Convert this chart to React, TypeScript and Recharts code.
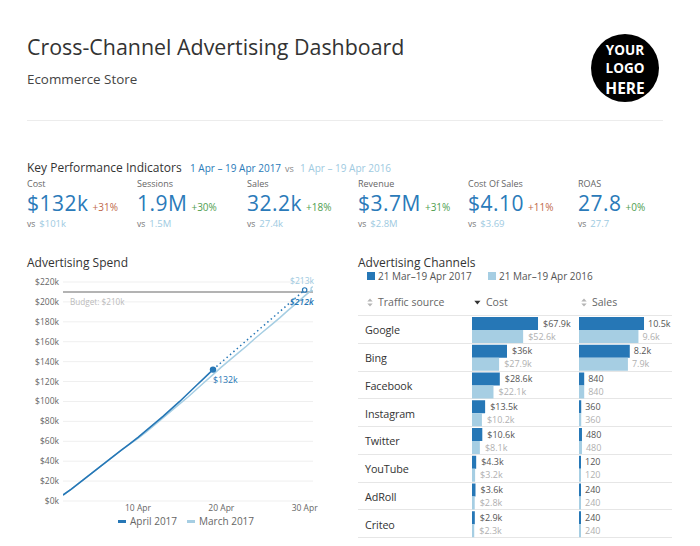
import React from 'react';
import {
  LineChart, Line, XAxis, YAxis, CartesianGrid, ReferenceLine,
  BarChart, Bar, LabelList,
} from 'recharts';

const FONT = '"Open Sans", "Noto Sans", sans-serif';
const DARK = '#2677b6';
const LIGHT = '#a6cee3';
const VALUE_BLUE = '#2a7ab9';
const PREV_BLUE = '#9ecae1';

// KPI data
const kpiLabels = ['Cost', 'Sessions', 'Sales', 'Revenue', 'Cost Of Sales', 'ROAS'];
const kpiValues = ['$132k', '1.9M', '32.2k', '$3.7M', '$4.10', '27.8'];
const kpiChanges = ['+31%', '+30%', '+18%', '+31%', '+11%', '+0%'];
const kpiChangeBad = [true, false, false, false, true, false];
const kpiPrevious = ['$101k', '1.5M', '27.4k', '$2.8M', '$3.69', '27.7'];
const kpiColumnsX = [27, 137, 247, 358, 468, 578];

// Advertising spend (cumulative, $k)
const aprilDays = [1, 2, 3, 4, 5, 6, 7, 8, 9, 10, 11, 12, 13, 14, 15, 16, 17, 18, 19];
const aprilSpend = [6, 12, 18.5, 25, 31.5, 38, 44.5, 51, 57.5, 64, 71, 78, 85, 92.5, 100, 108, 116, 124, 132];
const marchDays = [1, 2, 3, 4, 5, 6, 7, 8, 9, 10, 11, 12, 13, 14, 15, 16, 17, 18, 19, 20, 21, 22, 23, 24, 25, 26, 27, 28, 29, 30, 31];
const marchSpend = [6, 12, 18.5, 25, 31.5, 38, 44.5, 51, 57, 63, 69.5, 76.5, 83.5, 90.5, 97.5, 104.5, 112, 119.5, 127, 134.5, 141.5, 148.5, 155.5, 163, 170, 177, 184, 191.5, 198.5, 206, 213];
const projectionDays = [19, 30];
const projectionSpend = [132, 212];
const budget = 210;
const spendYTicks = [0, 20, 40, 60, 80, 100, 120, 140, 160, 180, 200, 220];
const spendXTicks = [10, 20, 30];

// Advertising channels
const channels = ['Google', 'Bing', 'Facebook', 'Instagram', 'Twitter', 'YouTube', 'AdRoll', 'Criteo'];
const cost2017 = [67.9, 36, 28.6, 13.5, 10.6, 4.3, 3.6, 2.9];
const cost2016 = [52.6, 27.9, 22.1, 10.2, 8.1, 3.2, 2.8, 2.3];
const sales2017 = [10500, 8200, 840, 360, 480, 120, 240, 240];
const sales2016 = [9600, 7900, 840, 360, 480, 120, 240, 240];

const aprilData = aprilDays.map((d, i) => ({ day: d, v: aprilSpend[i] }));
const marchData = marchDays.map((d, i) => ({ day: d, v: marchSpend[i] }));
const projData = projectionDays.map((d, i) => ({ day: d, v: projectionSpend[i] }));
const channelData = channels.map((n, i) => ({
  name: n, c17: cost2017[i], c16: cost2016[i], s17: sales2017[i], s16: sales2016[i],
}));

const fmtCost = (v: any) => `$${v}k`;
const fmtSales = (v: any) => (Number(v) >= 1000 ? `${(Number(v) / 1000).toFixed(1)}k` : `${v}`);

const T = ({ x, y, size, color, children, weight, italic, lh, ls }: any) => {
  const l = lh || Math.round(size * 1.4);
  return (
    <div
      style={{
        position: 'absolute', left: x, top: y - l / 2, fontSize: size, lineHeight: `${l}px`,
        color, whiteSpace: 'nowrap', fontFamily: FONT, fontWeight: weight || 400,
        fontStyle: italic ? 'italic' : 'normal', letterSpacing: ls || 0,
      }}
    >
      {children}
    </div>
  );
};

const SortIcon = () => (
  <svg width="6" height="9" style={{ display: 'inline-block', marginRight: 5, verticalAlign: '-1px' }}>
    <path d="M0.3 3.6 L3 0.5 L5.7 3.6 Z" fill="#b5b5b5" />
    <path d="M0.3 5.4 L3 8.5 L5.7 5.4 Z" fill="#b5b5b5" />
  </svg>
);
const DownIcon = () => (
  <svg width="7" height="7" style={{ display: 'inline-block', marginRight: 5, verticalAlign: '0px' }}>
    <path d="M0.3 1.8 L6.5 1.8 L3.4 5.5 Z" fill="#333" />
  </svg>
);

const lastApril = aprilSpend[aprilSpend.length - 1];
const lastMarch = marchSpend[marchSpend.length - 1];
const lastProj = projectionSpend[projectionSpend.length - 1];

export default function App() {
  const rowTop = 316;
  const rowH = 27.75;
  return (
    <div style={{ position: 'absolute', left: 0, top: 0, width: 700, height: 546, background: '#fff', fontFamily: FONT, overflow: 'hidden' }}>
      {/* Header */}
      <T x={27} y={47} size={21.4} color="#333" lh={30}>Cross-Channel Advertising Dashboard</T>
      <T x={27} y={79} size={13.4} color="#444">Ecommerce Store</T>
      <div style={{ position: 'absolute', left: 591, top: 34, width: 68, height: 68, borderRadius: '50%', background: '#000' }} />
      <div style={{ position: 'absolute', left: 591, top: 41, width: 68, textAlign: 'center', color: '#fff', fontFamily: FONT, fontWeight: 700, fontSize: 13.5, lineHeight: '18.5px', whiteSpace: 'nowrap' }}>YOUR</div>
      <div style={{ position: 'absolute', left: 591, top: 59, width: 68, textAlign: 'center', color: '#fff', fontFamily: FONT, fontWeight: 700, fontSize: 13.5, lineHeight: '18.5px', whiteSpace: 'nowrap' }}>LOGO</div>
      <div style={{ position: 'absolute', left: 591, top: 78, width: 68, textAlign: 'center', color: '#fff', fontFamily: FONT, fontWeight: 700, fontSize: 15.5, lineHeight: '21px', whiteSpace: 'nowrap' }}>HERE</div>
      <div style={{ position: 'absolute', left: 27, top: 120, width: 636, height: 1, background: '#ececec' }} />

      {/* KPI */}
      <T x={27} y={167} size={12} color="#333">Key Performance Indicators</T>
      <T x={190} y={168} size={10} color={VALUE_BLUE}>1 Apr – 19 Apr 2017</T>
      <T x={285} y={168} size={9} color="#888">vs</T>
      <T x={300} y={168} size={10} color={PREV_BLUE}>1 Apr – 19 Apr 2016</T>
      {kpiLabels.map((lab, i) => (
        <React.Fragment key={lab}>
          <T x={kpiColumnsX[i]} y={183.5} size={9} color="#666" lh={12}>{lab}</T>
          <div style={{ position: 'absolute', left: kpiColumnsX[i], top: 192, height: 22, display: 'flex', alignItems: 'baseline', whiteSpace: 'nowrap', fontFamily: FONT }}>
            <span style={{ fontSize: 21, lineHeight: '22px', color: VALUE_BLUE, letterSpacing: 0.5 }}>{kpiValues[i]}</span>
            <span style={{ fontSize: 10, lineHeight: '12px', marginLeft: 4, color: kpiChangeBad[i] ? '#c0694a' : '#4f9e4f' }}>{kpiChanges[i]}</span>
          </div>
          <div style={{ position: 'absolute', left: kpiColumnsX[i], top: 218, height: 12, display: 'flex', alignItems: 'baseline', whiteSpace: 'nowrap', fontFamily: FONT }}>
            <span style={{ fontSize: 8.5, color: '#777', lineHeight: '12px' }}>vs</span>
            <span style={{ fontSize: 9.5, color: PREV_BLUE, marginLeft: 4, lineHeight: '12px' }}>{kpiPrevious[i]}</span>
          </div>
        </React.Fragment>
      ))}

      {/* Advertising Spend */}
      <T x={27} y={262} size={12} color="#333">Advertising Spend</T>
      <div style={{ position: 'absolute', left: 0, top: 270 }}>
        <LineChart width={330} height={270} margin={{ top: 12, right: 17, bottom: 14, left: 0 }}>
          <CartesianGrid vertical={false} stroke="#efefef" />
          <XAxis
            type="number" dataKey="day" domain={[1, 31]} ticks={spendXTicks} allowDataOverflow
            tickFormatter={(v: any) => `${v} Apr`} axisLine={false} tickLine={false} tickSize={0} tickMargin={4}
            height={25} tick={{ fontSize: 8.5, fill: '#666' }} interval={0}
          />
          <YAxis
            type="number" domain={[0, 220]} ticks={spendYTicks} tickFormatter={(v: any) => `$${v}k`}
            axisLine={false} tickLine={false} tickSize={0} tickMargin={4} width={63}
            tick={{ fontSize: 8.5, fill: '#666' }} interval={0}
          />
          <ReferenceLine
            y={budget} stroke="#9a9a9a" strokeWidth={1.5}
            label={{ value: `Budget: $${budget}k`, position: 'insideTopLeft', offset: 7, fill: '#bbb', fontSize: 8.2 }}
          />
          <Line
            data={marchData} dataKey="v" type="linear" stroke={LIGHT} strokeWidth={1.5} isAnimationActive={false}
            dot={(p: any) => p.payload && p.payload.v === lastMarch
              ? <circle key={`md${p.index}`} cx={p.cx} cy={p.cy} r={2} fill="#fff" stroke={LIGHT} strokeWidth={1.2} />
              : <g key={`md${p.index}`} />}
          >
            <LabelList dataKey="v" content={(p: any) => p.value === lastMarch
              ? <text x={Number(p.x) + 1} y={Number(p.y) - 5} textAnchor="end" fontSize={8.5} fill={PREV_BLUE}>{`$${p.value}k`}</text>
              : null} />
          </Line>
          <Line
            data={projData} dataKey="v" type="linear" stroke={DARK} strokeWidth={1.5} strokeDasharray="1.5 3" isAnimationActive={false}
            dot={(p: any) => p.payload && p.payload.v === lastProj
              ? <circle key={`pd${p.index}`} cx={p.cx} cy={p.cy} r={2.2} fill="#fff" stroke={DARK} strokeWidth={1.2} />
              : <g key={`pd${p.index}`} />}
          >
            <LabelList dataKey="v" content={(p: any) => p.value === lastProj
              ? <text x={Number(p.x) + 9} y={Number(p.y) + 15} textAnchor="end" fontSize={8.8} fontStyle="italic" fontWeight={600} fill={DARK}>{`$${p.value}k`}</text>
              : null} />
          </Line>
          <Line
            data={aprilData} dataKey="v" type="linear" stroke={DARK} strokeWidth={1.6} isAnimationActive={false}
            dot={(p: any) => p.payload && p.payload.v === lastApril
              ? <circle key={`ad${p.index}`} cx={p.cx} cy={p.cy} r={3.2} fill={DARK} stroke="none" />
              : <g key={`ad${p.index}`} />}
          >
            <LabelList dataKey="v" content={(p: any) => p.value === lastApril
              ? <text x={Number(p.x)} y={Number(p.y) + 13} textAnchor="start" fontSize={8.8} fill={DARK}>{`$${p.value}k`}</text>
              : null} />
          </Line>
        </LineChart>
      </div>
      {/* line legend */}
      <div style={{ position: 'absolute', left: 118, top: 520, width: 8, height: 2.5, background: DARK }} />
      <T x={130} y={521} size={10} color="#666">April 2017</T>
      <div style={{ position: 'absolute', left: 187, top: 520, width: 8, height: 2.5, background: LIGHT }} />
      <T x={199} y={521} size={10} color="#666">March 2017</T>

      {/* Advertising Channels */}
      <T x={358} y={262} size={12} color="#333">Advertising Channels</T>
      <div style={{ position: 'absolute', left: 367, top: 272, width: 8, height: 8, background: DARK }} />
      <T x={378} y={276} size={10} color="#555">21 Mar–19 Apr 2017</T>
      <div style={{ position: 'absolute', left: 488, top: 272, width: 8, height: 8, background: LIGHT }} />
      <T x={499} y={276} size={10} color="#555">21 Mar–19 Apr 2016</T>

      <div style={{ position: 'absolute', left: 367, top: 295, fontSize: 10.5, lineHeight: '15px', color: '#666', whiteSpace: 'nowrap' }}><SortIcon />Traffic source</div>
      <div style={{ position: 'absolute', left: 474, top: 295, fontSize: 10.5, lineHeight: '15px', color: '#666', whiteSpace: 'nowrap' }}><DownIcon />Cost</div>
      <div style={{ position: 'absolute', left: 581, top: 295, fontSize: 10.5, lineHeight: '15px', color: '#666', whiteSpace: 'nowrap' }}><SortIcon />Sales</div>

      {channels.map((c, i) => (
        <T key={c} x={365} y={rowTop + rowH * i + rowH / 2} size={10.8} color="#333" ls={-0.1}>{c}</T>
      ))}
      {[0, 1, 2, 3, 4, 5, 6, 7, 8].map((i) => (
        <div key={`sep${i}`} style={{ position: 'absolute', left: 358, top: Math.round(rowTop + rowH * i) - 1, width: 314, height: 1, background: '#e6e6e6' }} />
      ))}

      <div style={{ position: 'absolute', left: 472, top: rowTop }}>
        <BarChart width={105} height={222} data={channelData} layout="vertical" margin={{ top: 0, right: 0, bottom: 0, left: 0 }} barCategoryGap={1} barGap={0}>
          <XAxis type="number" hide domain={[0, 108]} />
          <YAxis type="category" dataKey="name" hide />
          <Bar dataKey="c17" fill={DARK} isAnimationActive={false} minPointSize={2}>
            <LabelList dataKey="c17" position="right" offset={5} formatter={fmtCost} fill="#555" fontSize={9} />
          </Bar>
          <Bar dataKey="c16" fill={LIGHT} isAnimationActive={false} minPointSize={2}>
            <LabelList dataKey="c16" position="right" offset={5} formatter={fmtCost} fill="#b0b0b0" fontSize={9} />
          </Bar>
        </BarChart>
      </div>
      <div style={{ position: 'absolute', left: 579, top: rowTop }}>
        <BarChart width={100} height={222} data={channelData} layout="vertical" margin={{ top: 0, right: 0, bottom: 0, left: 0 }} barCategoryGap={1} barGap={0}>
          <XAxis type="number" hide domain={[0, 16150]} />
          <YAxis type="category" dataKey="name" hide />
          <Bar dataKey="s17" fill={DARK} isAnimationActive={false} minPointSize={2}>
            <LabelList dataKey="s17" position="right" offset={4} formatter={fmtSales} fill="#555" fontSize={9} />
          </Bar>
          <Bar dataKey="s16" fill={LIGHT} isAnimationActive={false} minPointSize={2}>
            <LabelList dataKey="s16" position="right" offset={4} formatter={fmtSales} fill="#b0b0b0" fontSize={9} />
          </Bar>
        </BarChart>
      </div>
    </div>
  );
}
